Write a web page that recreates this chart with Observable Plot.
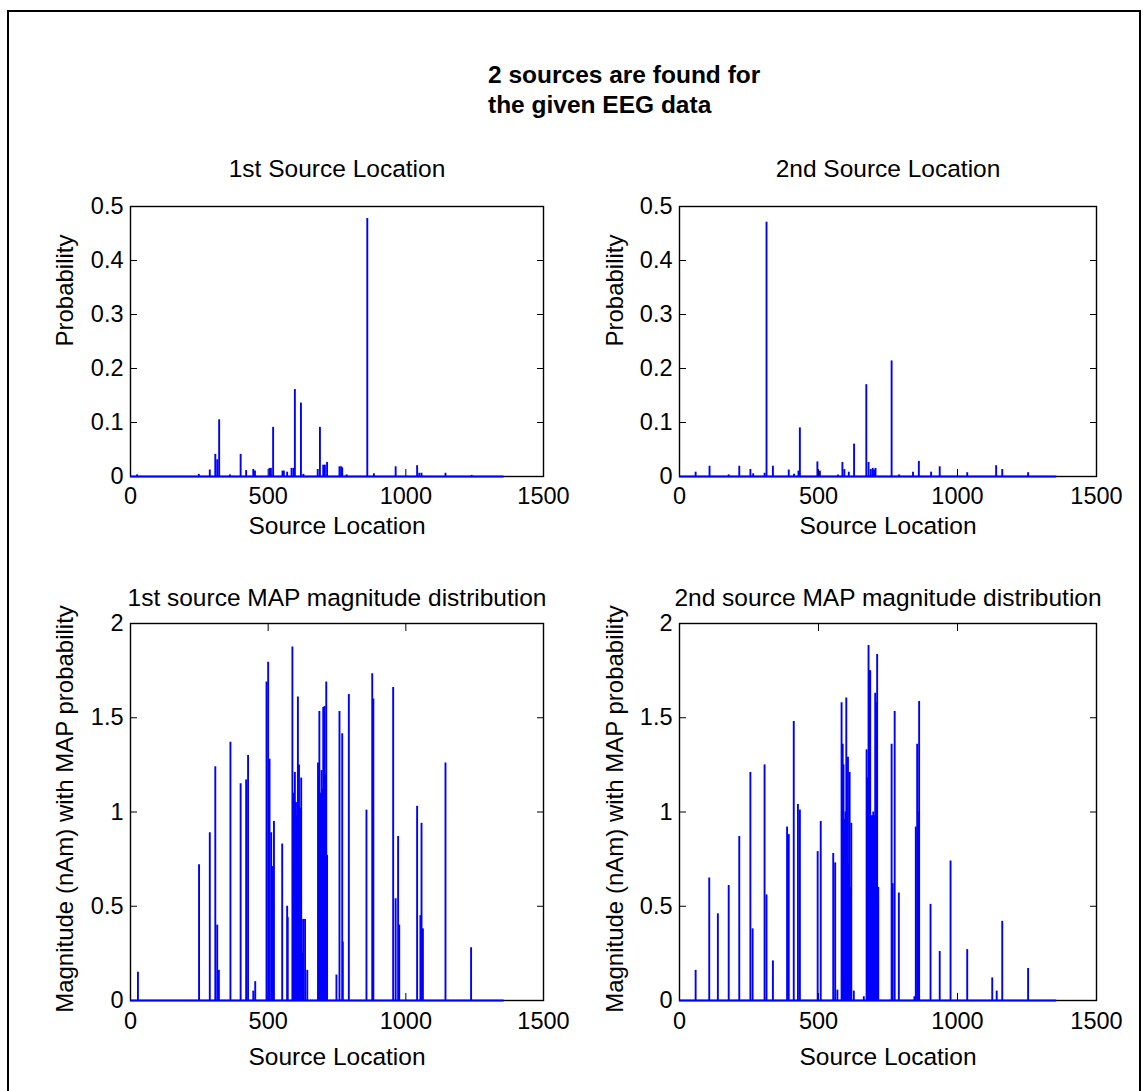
<!DOCTYPE html>
<html>
<head>
<meta charset="utf-8">
<script src="https://cdn.jsdelivr.net/npm/d3@7"></script>
<script src="https://cdn.jsdelivr.net/npm/@observablehq/plot@0.6"></script>
<style>
  html, body { margin: 0; padding: 0; background: #fff; overflow: hidden; }
  #page { position: relative; width: 1143px; height: 1091px; overflow: hidden; font-family: "Liberation Sans", Arial, sans-serif; }
  #border { position: absolute; left: 7px; top: 10px; width: 1134px; height: 1200px; border: 2px solid #000; box-sizing: border-box; }
  #title { position: absolute; left: 488px; top: 60px; font-size: 24.5px; font-weight: bold; line-height: 30px; color: #000; }
  .panel { position: absolute; }
</style>
</head>
<body>
<div id="page">
  <div id="border"></div>
  <div id="title">2 sources are found for<br>the given EEG data</div>
</div>
<script>
// ---- data ----
const nLocations = 1357;
const xTicks = [0, 500, 1000, 1500];
const probTicks = [0, 0.1, 0.2, 0.3, 0.4, 0.5];
const magTicks = [0, 0.5, 1, 1.5, 2];

const panelTitles = ["1st Source Location", "2nd Source Location",
  "1st source MAP magnitude distribution", "2nd source MAP magnitude distribution"];
const xLabel = "Source Location";
const probLabel = "Probability";
const magLabel = "Magnitude (nAm) with MAP probability";

// 1st source location probability
const prob1Loc = [24, 248, 288, 308, 315, 322, 361, 400, 420, 446, 452, 505, 510, 518, 552, 557, 569, 585, 592, 597, 619, 628, 680, 688, 700, 706, 714, 759, 765, 769, 785, 860, 884, 963, 1041, 1049, 1057, 1144, 1239];
const prob1Val = [0.003, 0.004, 0.012, 0.041, 0.031, 0.105, 0.003, 0.041, 0.011, 0.013, 0.010, 0.015, 0.015, 0.091, 0.010, 0.010, 0.008, 0.015, 0.015, 0.161, 0.136, 0.004, 0.013, 0.091, 0.021, 0.021, 0.026, 0.018, 0.018, 0.016, 0.003, 0.478, 0.005, 0.018, 0.020, 0.006, 0.006, 0.006, 0.002];

// 2nd source location probability
const prob2Loc = [58, 108, 177, 215, 255, 265, 306, 313, 336, 393, 412, 428, 433, 496, 505, 570, 586, 593, 609, 628, 672, 680, 688, 695, 700, 705, 763, 790, 840, 861, 905, 936, 1035, 1139, 1161, 1254];
const prob2Val = [0.008, 0.019, 0.003, 0.019, 0.013, 0.005, 0.006, 0.471, 0.019, 0.012, 0.004, 0.010, 0.090, 0.027, 0.010, 0.003, 0.026, 0.013, 0.008, 0.060, 0.170, 0.026, 0.013, 0.015, 0.012, 0.015, 0.214, 0.003, 0.008, 0.028, 0.008, 0.018, 0.007, 0.020, 0.013, 0.007];

// 1st source MAP magnitude
const mag1Loc = [27, 249, 288, 308, 315, 321, 363, 400, 420, 427, 446, 453, 494, 500, 505, 511, 517, 521, 551, 569, 571, 588, 591, 594, 597, 601, 604, 608, 612, 616, 620, 624, 627, 634, 642, 681, 684, 686, 690, 694, 697, 700, 705, 708, 711, 714, 748, 759, 769, 771, 793, 857, 878, 882, 954, 963, 972, 976, 1041, 1053, 1057, 1062, 1144, 1237];
const mag1Val = [0.15, 0.72, 0.89, 1.24, 0.40, 0.16, 1.37, 1.15, 1.17, 1.30, 0.05, 0.10, 1.69, 1.795, 1.28, 0.89, 0.71, 0.95, 0.83, 0.50, 0.44, 1.875, 1.10, 1.09, 1.21, 1.05, 0.98, 1.61, 1.25, 1.02, 1.18, 0.25, 0.43, 0.43, 0.16, 1.26, 1.20, 1.533, 1.10, 1.22, 1.12, 1.555, 1.56, 1.20, 1.69, 0.77, 0.135, 1.533, 1.415, 0.31, 1.623, 1.01, 1.733, 1.60, 1.66, 0.54, 0.87, 0.40, 1.03, 0.45, 0.94, 0.38, 1.26, 0.28];

// 2nd source MAP magnitude
const mag2Loc = [58, 107, 138, 177, 215, 255, 263, 306, 313, 336, 387, 393, 411, 426, 433, 497, 508, 553, 560, 568, 583, 587, 590, 594, 597, 600, 603, 606, 609, 612, 615, 618, 627, 663, 673, 677, 680, 683, 686, 690, 694, 697, 700, 704, 707, 711, 715, 763, 767, 774, 789, 845, 850, 855, 858, 862, 903, 936, 975, 1035, 1125, 1141, 1161, 1254];
const mag2Val = [0.16, 0.65, 0.46, 0.61, 0.87, 1.21, 0.38, 1.25, 0.56, 0.21, 0.92, 0.88, 1.48, 1.04, 1.01, 0.79, 0.95, 0.78, 0.73, 0.055, 1.58, 1.36, 1.25, 0.96, 1.00, 1.605, 0.95, 1.29, 0.72, 1.21, 0.60, 0.94, 0.05, 0.02, 1.33, 1.18, 1.883, 1.75, 1.75, 0.98, 0.98, 1.00, 0.98, 1.63, 1.58, 1.835, 0.60, 1.36, 0.62, 1.533, 0.57, 0.02, 0.92, 1.36, 1.00, 1.586, 0.51, 0.26, 0.74, 0.27, 0.12, 0.05, 0.42, 0.17];

// ---- drawing ----
const zip = (xs, ys) => xs.map((x, i) => ({x, y: ys[i]}));
const fmt = d => String(d);

function panel({data, yDomain, yTicks, title, yLabel, left, top, width, height, margins, titleDy, yLabelDx, yLabelDy, xTickDy, xLabelDy, topTicks}) {
  const marks = [
    Plot.frame({stroke: "#000", strokeWidth: 1.4}),
    Plot.axisY(yTicks, {anchor: "left", tickSize: -7, tickPadding: 14, tickFormat: fmt, label: null, fontSize: 23.5}),
    Plot.axisY(yTicks, {anchor: "right", tickSize: -7, tickFormat: () => "", label: null}),
    Plot.axisX(xTicks, {anchor: "bottom", tickSize: -7, tickPadding: 7 + xTickDy, tickFormat: fmt, label: null, fontSize: 23.5}),
  ];
  if (topTicks) marks.push(Plot.axisX(xTicks, {anchor: "top", tickSize: -7, tickFormat: () => "", label: null}));
  marks.push(
    Plot.ruleY([0], {x1: 0, x2: nLocations, stroke: "#0000ff", strokeWidth: 1.8}),
    Plot.ruleX(data, {x: "x", y1: 0, y2: "y", stroke: "#0000ff", strokeWidth: 1.9}),
    Plot.text([title], {frameAnchor: "top", text: d => d, dy: titleDy, lineAnchor: "bottom", textAnchor: "middle", fontSize: 24.5, fill: "#000"}),
    Plot.text([xLabel], {frameAnchor: "bottom", text: d => d, dy: xLabelDy, lineAnchor: "bottom", textAnchor: "middle", fontSize: 24.5, fill: "#000"}),
    Plot.text([yLabel], {frameAnchor: "left", text: d => d, rotate: -90, dx: yLabelDx, dy: yLabelDy, lineAnchor: "middle", textAnchor: "middle", fontSize: 24, fill: "#000"})
  );
  const svg = Plot.plot({
    width, height,
    marginLeft: margins[0], marginRight: margins[1], marginTop: margins[2], marginBottom: margins[3],
    x: {domain: [0, 1500]},
    y: {domain: yDomain},
    style: {fontFamily: "'Liberation Sans', Arial, sans-serif", fontSize: "23px", color: "#000", background: "transparent", overflow: "visible"},
    marks
  });
  const wrap = document.createElement("div");
  wrap.className = "panel";
  wrap.style.left = left + "px";
  wrap.style.top = top + "px";
  wrap.appendChild(svg);
  document.getElementById("page").appendChild(wrap);
}

// top-left: frame x 130-543, y 206-476
panel({data: zip(prob1Loc, prob1Val), yDomain: [0, 0.5], yTicks: probTicks, title: panelTitles[0], yLabel: probLabel,
  left: 0, top: 130, width: 570, height: 430, margins: [130, 27, 76, 84],
  titleDy: -30, yLabelDx: -65, yLabelDy: -51, xTickDy: 11, xLabelDy: 57, topTicks: false});
// top-right: frame x 679-1096
panel({data: zip(prob2Loc, prob2Val), yDomain: [0, 0.5], yTicks: probTicks, title: panelTitles[1], yLabel: probLabel,
  left: 570, top: 130, width: 573, height: 430, margins: [109, 47, 76, 84],
  titleDy: -30, yLabelDx: -64, yLabelDy: -51, xTickDy: 11, xLabelDy: 57, topTicks: false});
// bottom-left: frame y 623-1000
panel({data: zip(mag1Loc, mag1Val), yDomain: [0, 2], yTicks: magTicks, title: panelTitles[2], yLabel: magLabel,
  left: 0, top: 560, width: 570, height: 531, margins: [130, 27, 63, 91],
  titleDy: -18, yLabelDx: -65, yLabelDy: -3, xTickDy: 12, xLabelDy: 64, topTicks: true});
// bottom-right
panel({data: zip(mag2Loc, mag2Val), yDomain: [0, 2], yTicks: magTicks, title: panelTitles[3], yLabel: magLabel,
  left: 570, top: 560, width: 573, height: 531, margins: [109, 47, 63, 91],
  titleDy: -18, yLabelDx: -64, yLabelDy: -3, xTickDy: 12, xLabelDy: 64, topTicks: true});
</script>
</body>
</html>
